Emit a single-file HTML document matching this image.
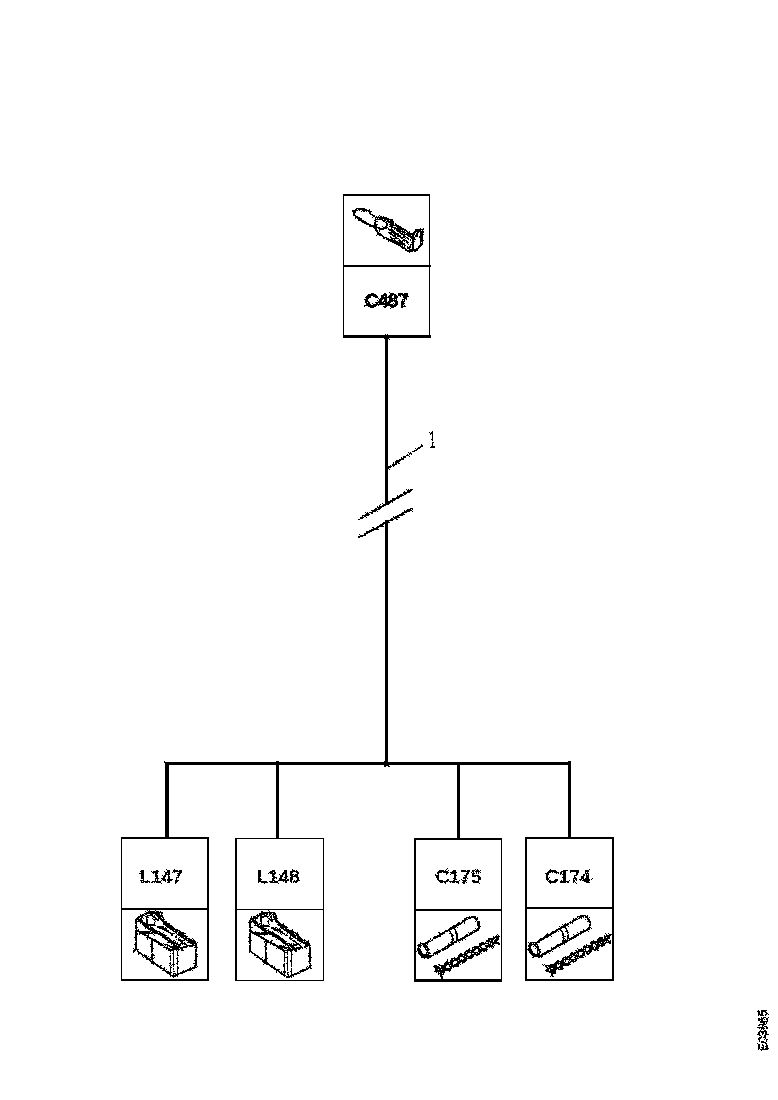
<!DOCTYPE html>
<html>
<head>
<meta charset="utf-8">
<title>Diagram</title>
<style>
html,body{margin:0;padding:0;background:#fff;}
body{width:778px;height:1100px;overflow:hidden;position:relative;}
svg{position:absolute;left:0;top:0;display:block;}
text{font-family:"Liberation Sans",sans-serif;fill:#000;}
.ln rect{fill:#000;}
.ho text{fill:#000;stroke:#000;stroke-width:0.3px;}
</style>
</head>
<body>
<svg width="778" height="1100" viewBox="0 0 778 1100">
<rect x="0" y="0" width="778" height="1100" fill="#fff"/>
<defs>
<filter id="rough" filterUnits="userSpaceOnUse" x="0" y="0" width="778" height="1100" color-interpolation-filters="sRGB">
<feTurbulence type="fractalNoise" baseFrequency="0.53 0.61" numOctaves="2" seed="7" result="n"/>
<feDisplacementMap in="SourceGraphic" in2="n" scale="2.6" xChannelSelector="G" yChannelSelector="B" result="d0"/>
<feComponentTransfer in="d0" result="d"><feFuncA type="discrete" tableValues="0 1 1 1"/></feComponentTransfer>
<feMorphology in="d" operator="dilate" radius="1.3" result="dd"/>
<feTurbulence type="fractalNoise" baseFrequency="0.93 0.87" numOctaves="1" seed="23" result="n2"/>
<feColorMatrix in="n2" type="matrix" values="0 0 0 0 0  0 0 0 0 0  0 0 0 0 0  9 0 0 0 -5.4" result="spk"/>
<feComposite in="spk" in2="dd" operator="in" result="spk2"/>
<feTurbulence type="fractalNoise" baseFrequency="0.89 0.97" numOctaves="1" seed="41" result="n3"/>
<feColorMatrix in="n3" type="matrix" values="0 0 0 0 0  0 0 0 0 0  0 0 0 0 0  0 9 0 0 -5.95" result="hol"/>
<feComposite in="d" in2="hol" operator="out" result="d1"/>
<feMorphology in="d" operator="erode" radius="1" result="thick"/>
<feColorMatrix in="n3" type="matrix" values="0 0 0 0 0  0 0 0 0 0  0 0 0 0 0  0 0 9 0 -5.0" result="hol2a"/>
<feComposite in="hol2a" in2="thick" operator="in" result="hol2"/>
<feComposite in="d1" in2="hol2" operator="out" result="d2"/>
<feMerge result="m"><feMergeNode in="d2"/><feMergeNode in="spk2"/></feMerge>
<feColorMatrix in="m" type="matrix" values="0 0 0 0 0  0 0 0 0 0  0 0 0 0 0  0 0 0 1 0" result="blk"/>
<feComponentTransfer in="blk"><feFuncA type="discrete" tableValues="0 0 1 1"/></feComponentTransfer>
</filter>
<filter id="rough2" filterUnits="userSpaceOnUse" x="0" y="0" width="778" height="1100" color-interpolation-filters="sRGB">
<feTurbulence type="fractalNoise" baseFrequency="0.53 0.61" numOctaves="2" seed="11" result="n"/>
<feDisplacementMap in="SourceGraphic" in2="n" scale="2.6" xChannelSelector="G" yChannelSelector="B" result="d0"/>
<feComponentTransfer in="d0" result="d"><feFuncA type="discrete" tableValues="0 0 1 1 1"/></feComponentTransfer>
<feMorphology in="d" operator="dilate" radius="1.3" result="dd"/>
<feTurbulence type="fractalNoise" baseFrequency="0.93 0.87" numOctaves="1" seed="23" result="n2"/>
<feColorMatrix in="n2" type="matrix" values="0 0 0 0 0  0 0 0 0 0  0 0 0 0 0  9 0 0 0 -5.4" result="spk"/>
<feComposite in="spk" in2="dd" operator="in" result="spk2"/>
<feTurbulence type="fractalNoise" baseFrequency="0.89 0.97" numOctaves="1" seed="41" result="n3"/>
<feColorMatrix in="n3" type="matrix" values="0 0 0 0 0  0 0 0 0 0  0 0 0 0 0  0 9 0 0 -5.95" result="hol"/>
<feComposite in="d" in2="hol" operator="out" result="d1"/>
<feMorphology in="d" operator="erode" radius="1" result="thick"/>
<feColorMatrix in="n3" type="matrix" values="0 0 0 0 0  0 0 0 0 0  0 0 0 0 0  0 0 9 0 -5.0" result="hol2a"/>
<feComposite in="hol2a" in2="thick" operator="in" result="hol2"/>
<feComposite in="d1" in2="hol2" operator="out" result="d2"/>
<feMerge result="m"><feMergeNode in="d2"/><feMergeNode in="spk2"/></feMerge>
<feColorMatrix in="m" type="matrix" values="0 0 0 0 0  0 0 0 0 0  0 0 0 0 0  0 0 0 1 0" result="blk"/>
<feComponentTransfer in="blk"><feFuncA type="discrete" tableValues="0 0 1 1"/></feComponentTransfer>
</filter>
<g id="relay" fill="none" stroke="#000" stroke-width="1.5" stroke-linejoin="round" stroke-linecap="round">
<path d="M135.8 919.8V950.2L173.3 976.5L196 966.7V944.6"/>
<path d="M135.8 929.7L152 939L170.8 950.2L196 944.6"/>
<path d="M152 939V962.6" stroke-width="1.9"/>
<path d="M170.4 950V976M173.6 951V976M177.6 950V974.5" stroke-width="1"/>
<path d="M135.8 919.6L147.1 912.4H161L164.1 922.5L170.2 924.5L173.3 928.7L182.6 932.8L186.7 937.9L192.9 941L196 944.1"/>
<path d="M155.8 913.2L160.5 917.3L166.1 924.5L173.3 929.7L180.5 934.8L187.7 940L192.9 944.1" stroke-width="2.8"/>
<path d="M140.4 920.4L147.6 927.1L155.8 931.7L164.1 935.8L170.2 941L178.5 946.1" stroke-width="3"/>
<path d="M140.4 932.2H158L166 938" stroke-width="2.2"/>
<path d="M147.3 915.5H154.6V925.4H147.3Z" stroke-width="1.2"/>
<path d="M137 921L146 914M150 913.5L158 920M162 927L172 934M168 939L182 950M176 937L188 946M172 947L184 943M166 945L178 949M158 927L168 931" stroke-width="1.5"/>
</g>
<g id="splice" fill="none" stroke="#000" stroke-width="1.8" stroke-linejoin="round" stroke-linecap="round">
<ellipse cx="423.2" cy="950.5" rx="4.1" ry="6.6" transform="rotate(-28 423.2 950.5)" stroke-width="2.8"/>
<path d="M425 943.8L469.5 917.6C476 914.5 481.5 924 478 929.6L428 957.6"/>
<path d="M448.5 930C452.2 932.5 453.5 938 452.3 943M453 927.5C456.6 930 458 935.5 456.8 940.5" stroke-width="1.4"/>
<path d="M439.5 973.2L440.3 973.5L441.2 973.6L441.9 973.5L442.5 973.3L443.0 972.9L443.4 972.2L443.7 971.5L443.9 970.5L444.1 969.5L444.2 968.4L444.4 967.4L444.6 966.3L444.8 965.4L445.1 964.6L445.5 963.9L445.9 963.4L446.5 963.1L447.2 963.0L448.0 963.1L448.9 963.3L449.8 963.7L450.8 964.1L451.8 964.6L452.8 965.0L453.7 965.4L454.6 965.6L455.4 965.7L456.1 965.7L456.7 965.4L457.2 965.0L457.6 964.4L457.9 963.6L458.2 962.7L458.3 961.6L458.5 960.6L458.6 959.5L458.8 958.4L459.0 957.5L459.3 956.7L459.7 956.0L460.2 955.5L460.8 955.2L461.5 955.1L462.2 955.2L463.1 955.5L464.1 955.8L465.0 956.2L466.0 956.7L467.0 957.1L468.0 957.5L468.8 957.7L469.7 957.9L470.4 957.8L471.0 957.6L471.5 957.1L471.9 956.5L472.2 955.7L472.4 954.8L472.6 953.8L472.7 952.7L472.9 951.6L473.1 950.6L473.3 949.6L473.6 948.8L474.0 948.1L474.4 947.7L475.0 947.4L475.7 947.3L476.5 947.4L477.4 947.6L478.3 947.9L479.3 948.4L480.3 948.8L481.3 949.2L482.2 949.6L483.1 949.9L483.9 950.0L484.6 949.9L485.2 949.7L485.7 949.2L486.1 948.6L486.4 947.8L486.7 946.9L486.8 945.9L487.0 944.8L487.1 943.7L487.3 942.7L487.5 941.7L487.8 940.9L488.2 940.3L488.7 939.8L489.3 939.5L490.0 939.4L490.7 939.5L491.6 939.7L492.6 940.1L493.5 940.5L494.5 940.9L495.5 941.4L496.5 941.7" stroke-width="2.8"/>
<path d="M437.5 969.8L437.8 968.9L438.1 968.1L438.6 967.6L439.1 967.2L439.7 967.0L440.5 967.0L441.3 967.1L442.2 967.4L443.2 967.8L444.2 968.3L445.1 968.7L446.1 969.1L447.0 969.4L447.9 969.6L448.6 969.7L449.3 969.5L449.9 969.2L450.3 968.6L450.7 967.9L450.9 967.1L451.1 966.1L451.3 965.0L451.4 964.0L451.6 962.9L451.8 961.9L452.0 961.0L452.4 960.3L452.8 959.7L453.3 959.3L454.0 959.1L454.7 959.1L455.5 959.3L456.5 959.6L457.4 959.9L458.4 960.4L459.4 960.8L460.4 961.2L461.3 961.6L462.1 961.8L462.9 961.8L463.6 961.6L464.1 961.3L464.6 960.8L464.9 960.1L465.2 959.2L465.4 958.2L465.5 957.2L465.7 956.1L465.9 955.0L466.0 954.0L466.3 953.1L466.6 952.4L467.1 951.8L467.6 951.4L468.2 951.2L469.0 951.2L469.8 951.4L470.7 951.7L471.7 952.1L472.7 952.5L473.6 953.0L474.6 953.4L475.5 953.7L476.4 953.9L477.1 953.9L477.8 953.8L478.4 953.4L478.8 952.9L479.2 952.2L479.4 951.3L479.6 950.3L479.8 949.3L479.9 948.2L480.1 947.1L480.3 946.1L480.5 945.3L480.9 944.5L481.3 943.9L481.8 943.6L482.5 943.4L483.2 943.4L484.0 943.5L485.0 943.8L485.9 944.2L486.9 944.6L487.9 945.1L488.9 945.5L489.8 945.8L490.6 946.0L491.4 946.0L492.1 945.9L492.6 945.5L493.1 945.0L493.4 944.3L493.7 943.4L493.9 942.5L494.0 941.4L494.2 940.3L494.4 939.3L494.5 938.3" stroke-width="2.8"/>
<path d="M439 969.5L434.5 966.5M440 973L442 978M441 971L436 971.5M494 938.5L498.5 936.5M495 942L499 943.5" stroke-width="2"/>
<path d="M491 941L497 938.5" stroke-width="3.5"/>
</g>
<g id="pin" fill="none" stroke="#000" stroke-width="1.9" stroke-linejoin="round" stroke-linecap="round">
<path d="M357 208.9L368.6 210L370.2 213L375.8 217.5L382 217.2L387 219L393.3 223.7L398.4 226.7L402.5 228.8L405.6 230.8L409.7 234L412.8 235L416.9 229.8L421.5 230.4V244.2L415.9 250.4H406.6L401.5 246.3L396.3 243.2L387 238.6L378.8 233.9L374.2 226.7L369.6 225.2L361.4 220.6L354.2 215.4L353.6 211.8Z"/>
<ellipse cx="381" cy="223.8" rx="6" ry="4.9" transform="rotate(20 381 223.8)" stroke-width="1.6"/>
<path d="M388.5 220.5L392.5 227M390.5 220L393.5 224.5" stroke-width="2.6"/>
<path d="M390 233L405 245M393 231L408 243M396 229.5L410 240M391 237.5L404 248M399.5 229L412 238M389 229L396 235" stroke-width="1.5"/>
<path d="M394 227.5L409 234.5M412.5 235.5L413.5 249M418.5 231L408.5 249.5M405.6 231L401 246" stroke-width="1.4"/>
</g>
</defs>
<g class="ln" shape-rendering="crispEdges">
<!-- top box -->
<rect x="343" y="194" width="87" height="2"/>
<rect x="343" y="194" width="1" height="143"/>
<rect x="429" y="194" width="1" height="143"/>
<rect x="343" y="265" width="88" height="2"/>
<rect x="343" y="335" width="88" height="3"/>
<!-- trunk -->
<rect x="385" y="335" width="3" height="169"/>
<rect x="385" y="520" width="3" height="245"/>
<rect x="385" y="334" width="1" height="1"/><rect x="387" y="334" width="1" height="1"/><rect x="384" y="338" width="5" height="1"/><rect x="389" y="339" width="1" height="1"/>
<rect x="384" y="761" width="2" height="1"/><rect x="384" y="765" width="5" height="1"/><rect x="384" y="766" width="2" height="1"/><rect x="388" y="766" width="2" height="1"/>
<rect x="164" y="761" width="1" height="2"/>
<!-- bus -->
<rect x="165" y="762" width="406" height="3"/>
<rect x="165" y="762" width="4" height="76"/>
<rect x="276" y="761" width="3" height="77"/>
<rect x="457" y="762" width="3" height="76"/>
<rect x="568" y="761" width="3" height="77"/>
<!-- box1 -->
<rect x="121" y="837" width="87" height="2"/>
<rect x="121" y="837" width="1" height="144"/>
<rect x="207" y="837" width="2" height="144"/>
<rect x="121" y="908" width="87" height="2"/>
<rect x="121" y="979" width="88" height="2"/>
<!-- box2 -->
<rect x="235" y="838" width="89" height="1"/>
<rect x="235" y="838" width="2" height="143"/>
<rect x="323" y="838" width="1" height="143"/>
<rect x="235" y="909" width="89" height="1"/>
<rect x="235" y="980" width="89" height="1"/>
<!-- box3 -->
<rect x="414" y="838" width="88" height="2"/>
<rect x="414" y="838" width="2" height="144"/>
<rect x="501" y="838" width="1" height="144"/>
<rect x="414" y="909" width="88" height="2"/>
<rect x="414" y="979" width="88" height="3"/>
<!-- box4 -->
<rect x="525" y="837" width="88" height="2"/>
<rect x="525" y="837" width="2" height="144"/>
<rect x="612" y="837" width="2" height="144"/>
<rect x="525" y="907" width="88" height="2"/>
<rect x="525" y="979" width="89" height="2"/>
</g>
<g filter="url(#rough2)">
<g class="ho" font-size="19" text-anchor="middle">
<text x="161.5" y="882.5">L147</text>
<text x="278.5" y="882.5">L148</text>
<text x="458.5" y="882.5">C175</text>
<text x="568" y="882.5">C174</text>
</g>
</g>
<g filter="url(#rough)">
<g font-size="18" text-anchor="middle">
<text x="386.5" y="307" stroke="#000" stroke-width="1">C487</text>
</g>

<text transform="translate(432.5,448) scale(0.5,1)" font-size="23" text-anchor="middle">1</text>
<text transform="translate(767.3,1051) rotate(-90)" font-size="13.5" textLength="41" lengthAdjust="spacingAndGlyphs">E03865</text>
<g stroke="#000" fill="none" stroke-linecap="round">
<path d="M388 468L422 446" stroke-width="1.3"/>
<path d="M359.5 519L412 489.7" stroke-width="1.9"/>
<path d="M359.5 537L412 508.6" stroke-width="1.9"/>
</g>
<use href="#pin"/>
<use href="#relay"/>
<use href="#relay" transform="translate(114,1)"/>
<use href="#splice"/>
<use href="#splice" transform="translate(111,-1)"/>
</g>
</svg>
</body>
</html>
